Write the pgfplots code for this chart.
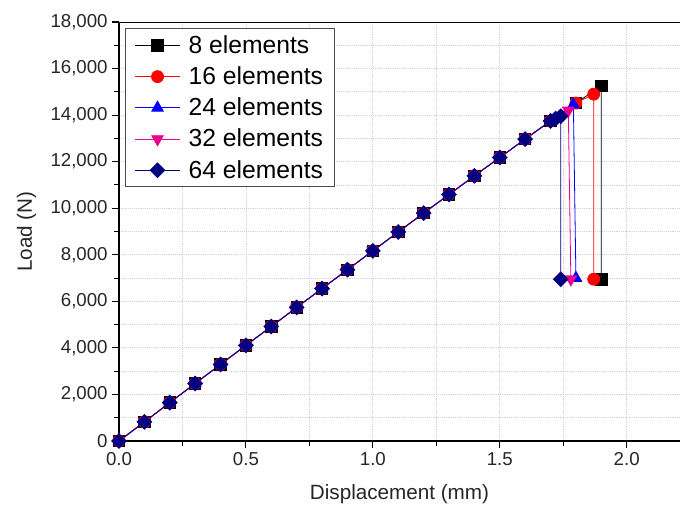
\documentclass[border=0pt]{standalone}
\usepackage{pgfplots}
\pgfplotsset{compat=1.18}
\usepackage{fontspec}
\setmainfont{Liberation Sans}
\definecolor{navyblue}{RGB}{0,0,128}

\begin{document}
\begin{tikzpicture}
\useasboundingbox (-89.25pt,-50.25pt) rectangle (420.75pt,330.75pt);
\begin{axis}[
  at={(0,0)}, anchor=south west,
  scale only axis, width=420.75pt, height=314.25pt,
  xmin=0, xmax=2.21, ymin=0, ymax=18000,
  axis lines=left, axis line style={-, line width=1.1pt},
  xtick={0,0.5,1,1.5,2}, minor x tick num=1,
  ytick={0,2000,...,18000}, minor y tick num=1,
  tick align=outside, major tick length=5pt, minor tick length=3.5pt,
  tick style={black, line width=0.8pt},
  grid=both,
  major grid style={gray!35, densely dotted, line width=0.6pt},
  minor grid style={gray!35, densely dotted, line width=0.6pt},
  scaled y ticks=false,
  /pgf/number format/assume math mode=true,
  y tick label style={/pgf/number format/.cd, fixed, 1000 sep={,}},
  x tick label style={/pgf/number format/.cd, fixed, fixed zerofill, precision=1},
  tick label style={font=\fontsize{14}{16}\selectfont, text=black!85},
  label style={font=\fontsize{15.5}{18}\selectfont, text=black!85},
  xlabel={Displacement (mm)}, ylabel={Load (N)},
  xlabel style={yshift=-7pt},
  ylabel style={yshift=4pt},
  legend style={at={(0.011,0.985)}, anchor=north west,
    font=\fontsize{18.5}{21}\selectfont, draw=black!70, line width=0.8pt,
    inner xsep=6.5pt, inner ysep=3pt, row sep=4.5pt, column sep=4pt},
  legend cell align=left,
  legend image code/.code={\draw[mark repeat=2,mark phase=2] plot coordinates {(0cm,0cm)(0.6cm,0cm)(1.2cm,0cm)};},
  every axis plot/.append style={line width=0.6pt},
]
\addplot[black, mark=square*, mark size=4.3pt] coordinates {
(0,0)(0.1,820)(0.2,1650)(0.3,2470)(0.4,3290)(0.5,4110)(0.6,4920)(0.7,5740)(0.8,6550)(0.9,7360)
(1.0,8170)(1.1,8980)(1.2,9790)(1.3,10590)(1.4,11390)(1.5,12180)(1.6,12970)(1.7,13750)
(1.8,14520)(1.9,15250)(1.9,6950)};
\addlegendentry{8 elements}
\addplot[red, mark=*, mark size=4.5pt] coordinates {
(0,0)(0.1,820)(0.2,1650)(0.3,2470)(0.4,3290)(0.5,4110)(0.6,4920)(0.7,5740)(0.8,6550)(0.9,7360)
(1.0,8170)(1.1,8980)(1.2,9790)(1.3,10590)(1.4,11390)(1.5,12180)(1.6,12970)(1.7,13750)
(1.8,14520)(1.87,14900)(1.87,6950)};
\addlegendentry{16 elements}
\addplot[blue, mark=triangle*, mark size=5pt] coordinates {
(0,0)(0.1,820)(0.2,1650)(0.3,2470)(0.4,3290)(0.5,4110)(0.6,4920)(0.7,5740)(0.8,6550)(0.9,7360)
(1.0,8170)(1.1,8980)(1.2,9790)(1.3,10590)(1.4,11390)(1.5,12180)(1.6,12970)(1.7,13750)
(1.79,14450)(1.80,7000)};
\addlegendentry{24 elements}
\addplot[magenta, mark=triangle*, mark options={rotate=180}, mark size=5pt] coordinates {
(0,0)(0.1,820)(0.2,1650)(0.3,2470)(0.4,3290)(0.5,4110)(0.6,4920)(0.7,5740)(0.8,6550)(0.9,7360)
(1.0,8170)(1.1,8980)(1.2,9790)(1.3,10590)(1.4,11390)(1.5,12180)(1.6,12970)(1.7,13750)
(1.77,14200)(1.78,6950)};
\addlegendentry{32 elements}
\addplot[navyblue, mark=square*, mark options={rotate=45}, mark size=3.9pt] coordinates {
(0,0)(0.1,820)(0.2,1650)(0.3,2470)(0.4,3290)(0.5,4110)(0.6,4920)(0.7,5740)(0.8,6550)(0.9,7360)
(1.0,8170)(1.1,8980)(1.2,9790)(1.3,10590)(1.4,11390)(1.5,12180)(1.6,12970)(1.7,13750)
(1.72,13850)(1.74,13950)(1.74,6950)};
\addlegendentry{64 elements}
\draw[line width=1.1pt] (rel axis cs:0,1) -- (rel axis cs:1,1);
\end{axis}
\end{tikzpicture}
\end{document}
